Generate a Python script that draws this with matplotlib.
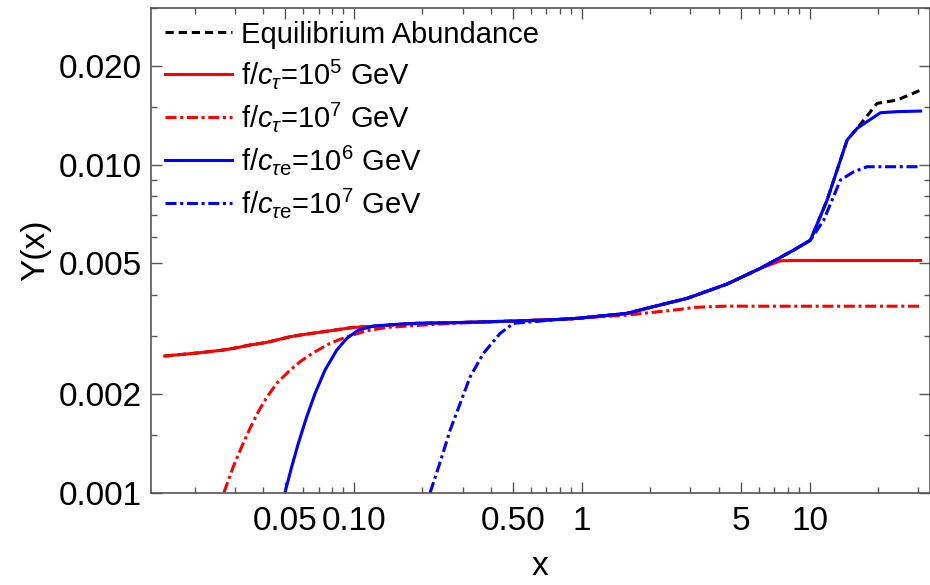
import matplotlib
matplotlib.use("Agg")
import matplotlib.pyplot as plt
from matplotlib.ticker import FixedLocator, NullFormatter

plt.rcParams['font.family'] = ['Liberation Sans', 'DejaVu Sans']
plt.rcParams['mathtext.fontset'] = 'custom'
plt.rcParams['mathtext.rm'] = 'Liberation Sans'
plt.rcParams['mathtext.it'] = 'Liberation Sans:italic'

# f/c_tau = 1e5 GeV (solid red)
x_red = [0.0148, 0.0211, 0.0267, 0.0296, 0.035, 0.0415, 0.0524, 0.058, 0.0786, 0.0995,
         0.114, 0.160, 0.189, 0.265, 0.502, 0.805, 0.953, 1.58, 2.0, 2.9, 4.34, 6.08,
         7.44, 8.5, 30.7]
y_red = [0.002608, 0.002669, 0.00272, 0.002752, 0.002817, 0.00287, 0.002985, 0.003021,
         0.003113, 0.003189, 0.003202, 0.003257, 0.003281, 0.003294, 0.003334, 0.003373,
         0.003397, 0.003518, 0.003669, 0.003909, 0.004322, 0.004826, 0.005088, 0.0051,
         0.0051]

# f/c_tau = 1e7 GeV (dash-dot red)
x_red2 = [0.0269, 0.02957, 0.03219, 0.035, 0.03806, 0.04145, 0.04585, 0.05159, 0.05801,
          0.0664, 0.07859, 0.09307, 0.1139, 0.1395, 0.265, 0.502, 0.805, 1.58, 2.7, 3.1,
          4.34, 5.3, 30.7]
y_red2 = [0.001, 0.001199, 0.001379, 0.001569, 0.001763, 0.001951, 0.002152, 0.002335,
          0.002505, 0.002669, 0.002851, 0.002985, 0.003113, 0.003189, 0.00328, 0.00333,
          0.003373, 0.003476, 0.003618, 0.003669, 0.003703, 0.0037, 0.0037]

# f/c_tau_e = 1e6 GeV (solid blue)
x_blue = [0.04986, 0.05337, 0.05705, 0.06209, 0.06756, 0.0747, 0.08413, 0.09307, 0.1047,
          0.1218, 0.1596, 0.189, 0.265, 0.502, 0.805, 0.953, 1.58, 2.0, 2.9, 4.34, 6.08,
          8.52, 10.08, 11.94, 14.61, 16.17, 20.46, 24.2, 30.7]
y_blue = [0.001, 0.001199, 0.001413, 0.001702, 0.002006, 0.002363, 0.00272, 0.002952,
          0.003129, 0.003218, 0.003264, 0.003281, 0.003294, 0.003334, 0.003373, 0.003397,
          0.003518, 0.003669, 0.003909, 0.004322, 0.004826, 0.005487, 0.00588, 0.0078,
          0.01188, 0.0129, 0.01439, 0.0145, 0.01456]

# f/c_tau_e = 1e7 GeV (dash-dot blue)
x_blue2 = [0.2162, 0.2394, 0.2646, 0.3238, 0.3704, 0.4385, 0.502, 0.805, 0.953, 1.58,
           2.0, 2.9, 4.34, 6.08, 8.52, 10.08, 11.53, 13.65, 15.62, 17.89, 30.7]
y_blue2 = [0.001, 0.001241, 0.001551, 0.002254, 0.002658, 0.003058, 0.003281, 0.003373,
           0.003397, 0.003518, 0.003669, 0.003909, 0.004322, 0.004826, 0.005487, 0.00588,
           0.00677, 0.00897, 0.00951, 0.00985, 0.00985]

# equilibrium abundance (dashed black), hidden under the others below x~15
x_eq = [0.0148, 0.0211, 0.0267, 0.0296, 0.035, 0.0415, 0.0524, 0.058, 0.0786, 0.0995,
        0.114, 0.160, 0.189, 0.265, 0.502, 0.805, 0.953, 1.58, 2.0, 2.9, 4.34, 6.08,
        8.52, 10.08, 11.94, 14.61, 16.17, 19.79, 24.23, 30.7]
y_eq = [0.002608, 0.002669, 0.00272, 0.002752, 0.002817, 0.00287, 0.002985, 0.003021,
        0.003113, 0.003189, 0.003202, 0.003257, 0.003281, 0.003294, 0.003334, 0.003373,
        0.003397, 0.003518, 0.003669, 0.003909, 0.004322, 0.004826, 0.005487, 0.00588,
        0.0078, 0.01188, 0.0129, 0.01537, 0.01573, 0.01687]

labels = ['Equilibrium Abundance',
          r'f/$c_\tau$=10$^5$ GeV',
          r'f/$c_\tau$=10$^7$ GeV',
          r'f/$c_{\tau\mathrm{e}}$=10$^6$ GeV',
          r'f/$c_{\tau\mathrm{e}}$=10$^7$ GeV']

x_major = [0.05, 0.1, 0.5, 1, 5, 10]
x_major_labels = ['0.05', '0.10', '0.50', '1', '5', '10']
x_minor = [0.02, 0.03, 0.04, 0.06, 0.07, 0.08, 0.09, 0.2, 0.3, 0.4, 0.6, 0.7, 0.8, 0.9,
           2, 3, 4, 6, 7, 8, 9, 20, 30]
y_major = [0.001, 0.002, 0.005, 0.01, 0.02]
y_major_labels = ['0.001', '0.002', '0.005', '0.010', '0.020']
y_minor = [0.0015, 0.003, 0.004, 0.006, 0.007, 0.008, 0.009, 0.015, 0.03]

fig = plt.figure(figsize=(9.3, 5.85), dpi=100)
ax = fig.add_axes([0.162, 0.158, 0.8375, 0.829])

lw = 2.2
dd = (3.6, 1.2, 1.0, 1.2)
ax.plot(x_eq, y_eq, color='black', lw=lw, dashes=(2.7, 1.6), label=labels[0])
ax.plot(x_red, y_red, color='#ff0000', lw=lw, label=labels[1])
ax.plot(x_red2, y_red2, color='#ff0000', lw=lw, dashes=dd, label=labels[2])
ax.plot(x_blue, y_blue, color='#0000ff', lw=lw, label=labels[3])
ax.plot(x_blue2, y_blue2, color='#0000ff', lw=lw, dashes=dd, label=labels[4])

ax.set_xscale('log')
ax.set_yscale('log')
ax.set_xlim(0.01283, 33.6)
ax.set_ylim(0.001, 0.0301)

ax.xaxis.set_major_locator(FixedLocator(x_major))
ax.set_xticklabels(x_major_labels)
ax.xaxis.set_minor_locator(FixedLocator(x_minor))
ax.xaxis.set_minor_formatter(NullFormatter())
ax.yaxis.set_major_locator(FixedLocator(y_major))
ax.set_yticklabels(y_major_labels)
ax.yaxis.set_minor_locator(FixedLocator(y_minor))
ax.yaxis.set_minor_formatter(NullFormatter())

ax.tick_params(which='both', direction='in', top=True, right=True, color='#555555',
               labelsize=24)
ax.tick_params(axis='x', pad=10)
ax.tick_params(axis='y', pad=6)
ax.tick_params(which='major', length=8, width=1)
ax.tick_params(which='minor', length=4, width=1)
for s in ax.spines.values():
    s.set_color('#555555')
    s.set_linewidth(1.2)

ax.set_xlabel('x', fontsize=24, labelpad=10)
ax.set_ylabel('Y(x)', fontsize=24, labelpad=6)

ax.legend(loc='upper left', bbox_to_anchor=(0.018, 0.973), frameon=False, fontsize=21,
          borderpad=0, borderaxespad=0, handlelength=2.3, handletextpad=0.3,
          labelspacing=0.30)

fig.savefig('out.png', dpi=100)
